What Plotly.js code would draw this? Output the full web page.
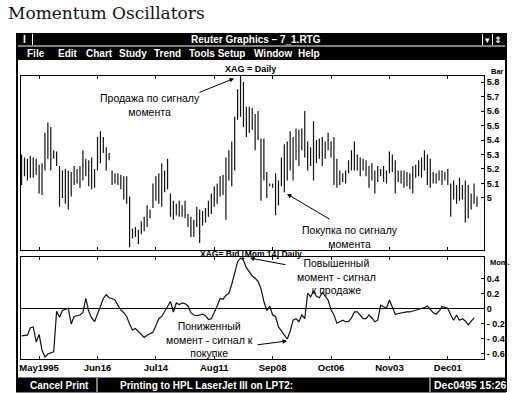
<!DOCTYPE html>
<html><head><meta charset="utf-8">
<script src="https://cdn.plot.ly/plotly-3.0.1.min.js"></script>
<style>html,body{margin:0;padding:0;background:#fff;} #chart{width:519px;height:393px;}</style>
</head><body><div id="chart"></div>
<script>
// ---- data (trading-day index 0 = May 19 1995, every 20 days = 4 weeks) ----
const firstDay = -6;
const barHigh = [
5.30,5.28,5.27,5.29,5.28,5.27,5.23,5.24,5.45,5.52,
5.49,5.33,5.32,5.22,5.19,5.20,5.19,5.18,5.22,5.20,
5.22,5.33,5.27,5.26,5.28,5.20,5.42,5.46,5.42,5.35,
5.31,5.19,5.17,5.17,5.16,5.15,5.15,5.01,4.79,4.80,
4.78,4.84,4.87,4.95,4.92,5.10,5.15,5.17,5.24,5.19,
5.27,5.03,4.98,4.96,4.98,4.95,4.98,4.89,4.87,4.85,
4.94,4.92,4.91,4.93,4.98,5.03,5.08,5.10,5.15,5.16,
5.28,5.33,5.39,5.56,5.75,5.85,5.80,5.63,5.63,5.62,
5.58,5.60,5.41,5.41,5.18,5.10,5.10,5.17,5.12,5.28,
5.37,5.39,5.46,5.42,5.48,5.47,5.48,5.60,5.39,5.35,
5.53,5.40,5.41,5.42,5.39,5.45,5.39,5.42,5.27,5.19,
5.17,5.19,5.26,5.33,5.39,5.30,5.28,5.27,5.26,5.22,
5.24,5.19,5.22,5.20,5.22,5.19,5.32,5.30,5.26,5.19,
5.19,5.19,5.18,5.17,5.22,5.23,5.26,5.28,5.33,5.30,
5.27,5.18,5.17,5.19,5.19,5.18,5.20,5.10,5.12,5.09,
5.14,5.09,5.12,5.09,5.03,5.10,5.01];
const barLow = [
5.09,5.15,5.12,5.14,5.14,5.16,5.03,5.02,5.19,5.27,
5.19,5.27,5.22,4.94,5.00,4.96,4.92,5.01,5.09,5.10,
5.07,5.12,5.15,5.08,5.06,5.07,5.19,5.24,5.31,5.19,
5.26,5.09,5.10,5.09,5.06,4.99,4.96,4.66,4.72,4.73,
4.68,4.75,4.77,4.80,4.86,4.93,4.98,4.96,4.94,5.04,
5.06,4.87,4.85,4.88,4.87,4.87,4.86,4.80,4.73,4.73,
4.80,4.69,4.81,4.83,4.87,4.89,4.94,4.96,5.01,5.02,
4.85,5.12,5.08,5.19,5.54,5.56,5.49,5.42,5.45,5.47,
5.33,5.40,4.98,5.12,5.00,5.08,5.07,4.88,4.95,5.08,
5.04,5.12,5.19,5.12,5.26,5.22,5.33,5.28,5.19,5.22,
5.12,5.24,5.27,5.22,5.27,5.33,5.28,5.09,5.07,5.09,
5.11,5.10,5.17,5.19,5.19,5.19,5.15,5.19,5.15,5.07,
5.12,5.03,5.11,5.15,5.11,5.10,5.17,5.18,5.03,5.11,
5.10,5.07,5.08,5.06,5.03,5.14,5.15,5.14,5.19,5.09,
5.07,5.10,5.10,5.12,5.09,5.12,5.09,4.87,4.99,4.96,
4.98,4.99,4.83,4.86,4.92,4.96,4.94];
const momentum = [
-0.36,-0.36,-0.35,-0.25,-0.24,-0.44,-0.34,-0.55,-0.64,-0.60,
-0.59,-0.57,-0.03,-0.11,-0.02,0.00,0.01,-0.20,-0.10,-0.09,
-0.08,-0.05,0.14,-0.03,-0.12,-0.17,-0.06,0.03,0.14,0.19,
0.15,0.14,0.12,0.05,-0.01,-0.05,-0.10,-0.20,-0.28,-0.26,
-0.30,-0.35,-0.38,-0.35,-0.33,-0.31,-0.22,-0.13,-0.10,-0.03,
0.05,0.10,-0.04,0.08,0.06,0.08,0.07,0.04,-0.05,-0.08,
-0.09,-0.08,-0.07,-0.09,-0.14,-0.13,-0.05,0.04,0.14,0.13,
0.18,0.21,0.33,0.50,0.63,0.68,0.65,0.55,0.49,0.44,
0.41,0.37,0.27,0.10,-0.02,0.04,-0.08,-0.10,-0.24,-0.29,
-0.34,-0.40,-0.30,-0.15,-0.13,-0.17,-0.08,-0.13,0.21,0.16,
0.24,0.17,0.15,0.22,0.17,0.12,-0.01,-0.08,-0.19,-0.17,
-0.15,-0.17,-0.17,-0.12,-0.04,-0.04,-0.08,-0.13,-0.13,-0.08,
-0.12,-0.17,-0.15,0.05,0.03,0.01,0.12,0.03,-0.07,-0.06,
-0.05,-0.05,-0.04,-0.04,-0.03,-0.02,0.00,0.01,0.02,0.04,
-0.01,-0.05,-0.07,-0.03,0.03,0.02,0.01,-0.08,-0.15,-0.08,
-0.15,-0.13,-0.16,-0.21,-0.17,-0.12];
const tickDays = [0,20,40,60,80,100,120,140];
const tickLabels = ["May1995","Jun16","Jul14","Aug11","Sep08","Oct06","Nov03","Dec01"];
const priceTicks = [5.0,5.1,5.2,5.3,5.4,5.5,5.6,5.7,5.8];
const priceTickText = ["5","5.1","5.2","5.3","5.4","5.5","5.6","5.7","5.8"];
const momTicks = [0.4,0.2,0,-0.2,-0.4,-0.6];
const momTickText = ["0.4","0.2","0","- 0.2","- 0.4","- 0.6"];
const menuItems = ["File","Edit","Chart","Study","Trend","Tools Setup","Window","Help"];

// ---- build traces ----
const barX = [], barY = [];
barHigh.forEach((h, k) => { const d = firstDay + k; barX.push(d, d, null); barY.push(barLow[k], h, null); });
const momX = momentum.map((_, k) => firstDay + k);

const W = 519, H = 393;
const px = x => x / W, py = y => 1 - y / H;
const UI = "Liberation Sans, Arial, sans-serif";
const blk = '#000';

const traces = [
  {type:'scatter', mode:'lines', x:barX, y:barY, xaxis:'x', yaxis:'y', line:{color:'#111', width:1.2}, hoverinfo:'skip'},
  {type:'scatter', mode:'lines', x:momX, y:momentum, xaxis:'x2', yaxis:'y2', line:{color:'#111', width:1.2}, hoverinfo:'skip'}
];

function T(text, x, y, o) {
  o = o || {};
  return {text, x:px(x), y:py(y), xref:'paper', yref:'paper', showarrow:false,
    xanchor:o.xa || 'center', yanchor:'middle', align:'center',
    font:{family:o.family || UI, size:o.size || 10, color:o.color || blk, weight:o.weight === undefined ? 700 : o.weight}};
}
function A(tx, ty, hx, hy) {
  return {text:'', x:px(hx), y:py(hy), xref:'paper', yref:'paper', showarrow:true,
    ax:tx - hx, ay:ty - hy, arrowhead:2, arrowsize:0.9, arrowwidth:1, arrowcolor:blk, standoff:0, startstandoff:0};
}
const menuX = [25, 56, 84, 117, 152, 187, 252, 296];
const note = {size:10.5, weight:400};
const ann = [
  T("Momentum Oscillators", 6, 13, {xa:'left', family:"DejaVu Serif, serif", size:17, weight:400, color:'#111'}),
  T("I", 24, 39.5, {color:'#fff', size:10}),
  T("Reuter Graphics \u2013 7_1.RTG", 256, 39.5, {color:'#fff', size:10}),
  T("\u25BE", 487.5, 39.5, {color:'#fff', size:9, family:"DejaVu Sans"}),
  T("\u21D5", 498, 39.5, {color:'#fff', size:9, family:"DejaVu Sans"}),
  T("XAG = Daily", 250, 69, {size:9}),
  T("Bar", 489, 72, {xa:'left', size:7.5}),
  T("XAG= Bid [Mom 14] Daily", 251, 253.5, {size:8.5}),
  T("Mom.", 488, 262, {xa:'left', size:7.5}),
  T("Cancel Print", 59, 385, {color:'#fff', size:10}),
  T("Printing to HPL LaserJet III on LPT2:", 118, 385, {xa:'left', color:'#fff', size:10}),
  T("Dec0495 15:26", 432, 385, {xa:'left', color:'#fff', size:10.5}),
  T("Продажа по сигналу<br>момента", 150, 105, note),
  T("Покупка по сигналу<br>момента", 350, 237, note),
  T("Повышенный<br>момент - сигнал<br>к продаже", 336, 276, note),
  T("Пониженный<br>момент - сигнал к<br>покупке", 209, 339.5, note),
  A(198, 93, 234, 78.5),
  A(331, 220, 287, 194),
  A(287, 265, 250, 258),
  A(256, 345, 287, 341)
];
menuItems.forEach((m, k) => ann.push(T(m, menuX[k], 53.5, {xa:'left', color:'#fff', size:10})));

function R(x0, y0, x1, y1, fill) {
  return {type:'rect', xref:'paper', yref:'paper', x0:px(x0), x1:px(x1), y0:py(y1), y1:py(y0), fillcolor:fill, line:{width:0}, layer:'above'};
}
function L(x0, y0, x1, y1, color, w) {
  return {type:'line', xref:'paper', yref:'paper', x0:px(x0), x1:px(x1), y0:py(y0), y1:py(y1), line:{color, width:w}, layer:'above'};
}
const shapes = [
  R(16, 33, 506, 45.5, blk),
  R(16, 46.5, 506, 60, blk),
  L(32.5, 34, 32.5, 45, '#fff', 1),
  L(482.5, 34, 482.5, 45, '#fff', 1),
  L(492.5, 34, 492.5, 45, '#fff', 1),
  L(17, 33, 17, 392, blk, 2),
  L(506, 33, 506, 392, blk, 2),
  R(16, 377.5, 506, 392.5, blk),
  L(97, 378, 97, 392, '#fff', 1),
  L(430, 378, 430, 392, '#fff', 1)
];

const xBase = {domain:[px(21), px(484)], range:[-6.2, 152.4], tickvals:tickDays, ticks:'inside', ticklen:3,
  tickcolor:blk, mirror:'ticks', showline:true, linecolor:blk, linewidth:1, showgrid:false, zeroline:false, fixedrange:true};
const yFont = {family:UI, size:9, color:blk, weight:700};
const layout = {
  width:W, height:H, margin:{l:0, r:0, t:0, b:0}, paper_bgcolor:'#fff', plot_bgcolor:'#fff', showlegend:false,
  xaxis:Object.assign({}, xBase, {anchor:'y', showticklabels:false}),
  xaxis2:Object.assign({}, xBase, {anchor:'y2', ticktext:tickLabels, tickfont:{family:UI, size:9.5, color:blk, weight:700}}),
  yaxis:{domain:[py(250), py(75.5)], range:[4.641, 5.845], side:'right', anchor:'x', tickvals:priceTicks, ticktext:priceTickText,
    ticks:'inside', ticklen:3, tickcolor:blk, showline:true, mirror:true, linecolor:blk, linewidth:1, showgrid:false, zeroline:false,
    tickfont:yFont, fixedrange:true},
  yaxis2:{domain:[py(359), py(257)], range:[-0.667, 0.693], side:'right', anchor:'x2', tickvals:momTicks, ticktext:momTickText,
    ticks:'inside', ticklen:3, tickcolor:blk, showline:true, mirror:true, linecolor:blk, linewidth:1, showgrid:false,
    zeroline:true, zerolinecolor:blk, zerolinewidth:1, tickfont:yFont, fixedrange:true},
  shapes, annotations:ann
};
Plotly.newPlot('chart', traces, layout, {staticPlot:true, displayModeBar:false});
</script></body></html>
